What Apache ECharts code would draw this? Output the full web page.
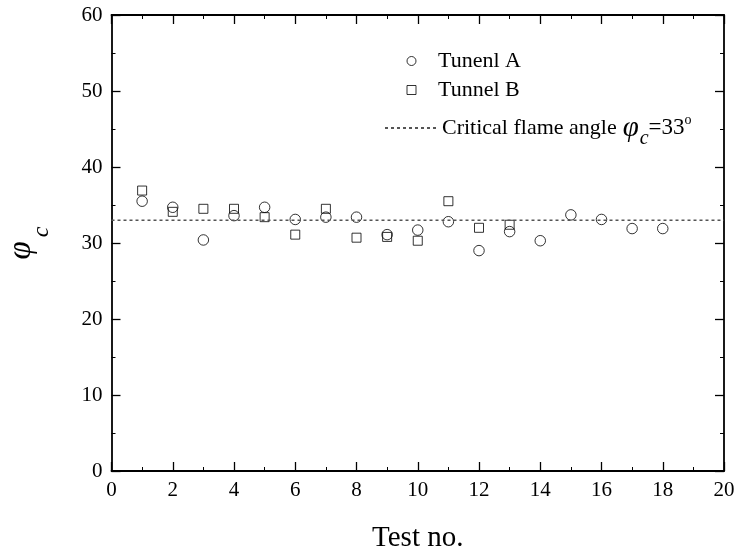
<!DOCTYPE html>
<html>
<head>
<meta charset="utf-8">
<script src="https://cdn.jsdelivr.net/npm/echarts@6/dist/echarts.min.js"></script>
<style>
  html, body { margin: 0; padding: 0; background: #fff; }
  #chart { width: 738px; height: 554px; }
</style>
</head>
<body>
<div id="chart"></div>
<script>
// Test numbers and measured critical flame angles
const testsA = [1, 2, 3, 4, 5, 6, 7, 8, 9, 10, 11, 12, 13, 14, 15, 16, 17, 18];
const phiA = [35.5, 34.7, 30.4, 33.6, 34.7, 33.1, 33.4, 33.4, 31.1, 31.7, 32.8, 29.0, 31.5, 30.3, 33.7, 33.1, 31.9, 31.9];
const testsB = [1, 2, 3, 4, 5, 6, 7, 8, 9, 10, 11, 12, 13];
const phiB = [36.9, 34.1, 34.5, 34.5, 33.4, 31.1, 34.5, 30.7, 30.8, 30.3, 35.5, 32.0, 32.4];
const criticalX = [0, 20];
const criticalPhi = 33;
const xTicks = [0, 2, 4, 6, 8, 10, 12, 14, 16, 18, 20];
const yTicks = [0, 10, 20, 30, 40, 50, 60];

const serif = '"Liberation Serif", "Times New Roman", serif';
const black = '#000';

const pairs = (xs, ys) => xs.map((x, i) => [x, ys[i]]);

const chart = echarts.init(document.getElementById('chart'));

const axisCommon = {
  axisLine: { show: true, onZero: false, lineStyle: { color: black, width: 1.8 } },
  axisTick: { show: true, inside: true, length: 9, lineStyle: { color: black, width: 1.3 } },
  minorTick: { show: true, splitNumber: 2, length: 4, lineStyle: { color: black, width: 1 } },
  splitLine: { show: false }
};

const legendText = {
  fontFamily: serif, fontSize: 22, color: black,
  rich: {
    sp: { width: 17 },
    t: { fontFamily: serif, fontSize: 22, color: black },
    phi: { fontFamily: serif, fontStyle: 'italic', fontSize: 29, color: black, padding: [0, 0, 0, 6] },
    sub: { fontFamily: serif, fontStyle: 'italic', fontSize: 20, color: black, padding: [22, 0, 0, 1] },
    eq: { fontFamily: serif, fontSize: 23, color: black },
    sup: { fontFamily: serif, fontSize: 14, color: black, padding: [0, 0, 16, 0] }
  }
};

chart.setOption({
  animation: false,
  backgroundColor: '#fff',
  grid: { left: 111.5, right: 14, top: 15, bottom: 83, containLabel: false, outerBoundsMode: 'none' },
  xAxis: [
    Object.assign({}, axisCommon, {
      type: 'value', min: xTicks[0], max: xTicks[xTicks.length - 1], interval: 2,
      name: 'Test no.', nameLocation: 'middle', nameGap: 53,
      nameTextStyle: { fontFamily: serif, fontSize: 29, color: black },
      axisLabel: { fontFamily: serif, fontSize: 21, color: black, margin: 9 }
    }),
    Object.assign({}, axisCommon, {
      type: 'value', position: 'top', min: 0, max: 20, interval: 2,
      axisLabel: { show: false }
    })
  ],
  yAxis: [
    Object.assign({}, axisCommon, {
      type: 'value', min: yTicks[0], max: yTicks[yTicks.length - 1], interval: 10,
      name: '{phi|φ}{sub|c}', nameLocation: 'middle', nameGap: 58, nameRotate: 90,
      nameTextStyle: {
        color: black,
        rich: {
          phi: { fontFamily: serif, fontStyle: 'italic', fontSize: 33, color: black },
          sub: { fontFamily: serif, fontStyle: 'italic', fontSize: 24, color: black, verticalAlign: 'bottom', padding: [40, 0, 0, 4] }
        }
      },
      axisLabel: { fontFamily: serif, fontSize: 21, color: black, margin: 9 }
    }),
    Object.assign({}, axisCommon, {
      type: 'value', position: 'right', min: 0, max: 60, interval: 10,
      axisLabel: { show: false }
    })
  ],
  legend: [
    {
      left: 401.5, top: 45, itemWidth: 9, itemHeight: 9,
      itemStyle: { borderWidth: 1 },
      textStyle: legendText,
      data: ['Tunenl A'],
      formatter: name => '{sp|}' + name
    },
    {
      left: 401.5, top: 74, itemWidth: 9, itemHeight: 9,
      itemStyle: { borderWidth: 1 },
      textStyle: legendText,
      data: ['Tunnel B'],
      formatter: name => '{sp|}' + name
    },
    {
      left: 379, top: 108, itemWidth: 52, itemHeight: 10,
      itemStyle: { opacity: 0 },
      textStyle: legendText,
      data: ['critical'],
      formatter: () => '{t|Critical flame angle}{phi|φ}{sub|c}{eq|=33}{sup|o}'
    }
  ],
  series: [
    {
      name: 'critical', type: 'line', xAxisIndex: 0, yAxisIndex: 0,
      data: criticalX.map(x => [x, criticalPhi]),
      symbol: 'none', silent: true,
      lineStyle: { color: '#555', width: 1.5, type: [3, 3] },
      itemStyle: { color: '#555' }
    },
    {
      name: 'Tunenl A', type: 'scatter', xAxisIndex: 0, yAxisIndex: 0,
      data: pairs(testsA, phiA),
      symbol: 'circle', symbolSize: 10.5,
      itemStyle: { color: 'rgba(255,255,255,0)', borderColor: black, borderWidth: 1 }
    },
    {
      name: 'Tunnel B', type: 'scatter', xAxisIndex: 0, yAxisIndex: 0,
      data: pairs(testsB, phiB),
      symbol: 'rect', symbolSize: 9,
      itemStyle: { color: 'rgba(255,255,255,0)', borderColor: black, borderWidth: 1 }
    }
  ]
});
</script>
</body>
</html>
